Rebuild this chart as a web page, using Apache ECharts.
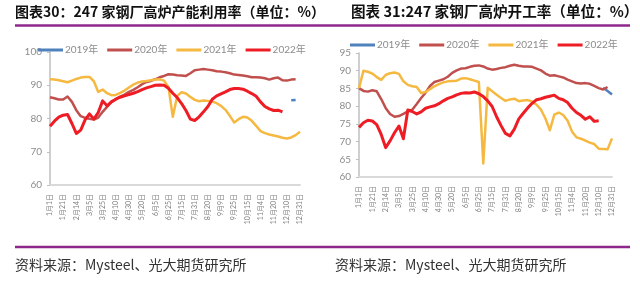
<!DOCTYPE html>
<html>
<head>
<meta charset="utf-8">
<script src="https://cdn.jsdelivr.net/npm/echarts@6/dist/echarts.min.js"></script>
<style>
  html, body { margin: 0; padding: 0; background: #fff; }
  #main { width: 640px; height: 283px; }
</style>
</head>
<body>
<div id="main"></div>
<script>
// x 轴刻度标签（每3个点显示一个）
var tickLabels = ['1月1日', '1月21日', '2月14日', '3月5日', '3月25日', '4月10日', '4月30日', '5月20日', '6月5日', '6月25日',
    '7月15日', '7月31日', '8月20日', '9月9日', '9月25日', '10月15日', '11月4日', '11月20日', '12月10日', '12月31日'];
var pointCount = 58;
var yearNames = ['2019年', '2020年', '2021年', '2022年'];

// 图表30：产能利用率
var util2019Start = 55;
var util2019 = [85.5, 85.6];
var util2020 = [86.4, 86.1, 85.7, 85.7, 86.6, 85.0, 82.5, 80.7, 80.2, 79.9, 79.7, 80.3, 82.0, 83.5, 85.0, 85.8, 86.6, 87.2, 88.0, 88.6,
    89.4, 90.3, 91.0, 91.3, 91.8, 92.4, 92.8, 93.3, 93.2, 93.0, 92.9, 92.8, 93.6, 94.5, 94.7, 94.9, 94.7, 94.5, 94.2, 94.1,
    93.9, 93.6, 93.2, 93.1, 92.9, 92.7, 92.4, 92.4, 92.3, 92.1, 91.7, 92.1, 92.3, 91.5, 91.4, 91.7, 91.8];
var util2021 = [91.8, 91.7, 91.5, 91.2, 90.9, 91.4, 91.9, 92.3, 92.5, 92.5, 91.2, 88.0, 88.7, 87.6, 87.0, 87.1, 87.7, 88.4, 89.3, 90.2,
    90.8, 91.1, 91.3, 91.5, 91.7, 91.8, 91.4, 89.5, 80.5, 86.8, 87.9, 87.5, 86.5, 85.6, 85.2, 85.4, 85.3, 85.1, 84.6, 83.8,
    82.6, 80.8, 78.8, 79.8, 80.5, 80.3, 79.3, 77.8, 76.2, 75.6, 75.2, 74.9, 74.6, 74.2, 74.0, 74.3, 75.0, 76.0];
var util2022 = [77.7, 79.2, 80.4, 81.0, 81.2, 78.5, 75.5, 76.5, 79.6, 81.4, 79.8, 81.8, 85.3, 83.8, 85.0, 85.8, 86.4, 86.8, 87.2, 87.6,
    88.1, 88.7, 89.2, 89.6, 90.0, 90.1, 90.0, 89.1, 87.6, 86.3, 84.5, 82.4, 79.8, 79.4, 80.5, 82.0, 83.6, 85.8, 86.8, 87.4,
    88.0, 88.7, 89.0, 89.0, 88.8, 88.2, 87.5, 86.7, 85.0, 83.6, 82.9, 82.4, 82.5, 82.0];

// 图表31：开工率
var run2019Start = 55;
var run2019 = [85.2, 84.3, 83.3];
var run2020 = [85.1, 84.3, 84.1, 84.5, 84.2, 82.0, 79.5, 77.8, 77.0, 77.2, 77.8, 78.5, 79.0, 80.6, 82.3, 83.8, 85.7, 86.8, 87.2, 87.6,
    88.3, 89.4, 90.1, 90.6, 90.7, 91.1, 91.4, 91.5, 91.2, 90.6, 90.3, 90.5, 90.8, 91.0, 91.4, 91.7, 91.4, 91.2, 91.2, 91.1,
    90.6, 90.1, 89.2, 88.6, 88.7, 88.4, 88.1, 87.5, 87.0, 86.5, 86.4, 86.5, 86.3, 85.7, 85.1, 84.7, 85.4];
var run2021 = [85.1, 90.0, 89.7, 89.2, 88.2, 87.4, 88.8, 89.3, 89.5, 89.1, 87.0, 86.0, 85.6, 85.4, 83.7, 84.0, 84.8, 85.6, 86.2, 86.7,
    87.0, 87.1, 87.2, 87.8, 87.9, 87.6, 87.2, 86.8, 63.8, 85.2, 84.2, 83.2, 82.3, 81.5, 81.9, 82.1, 81.4, 81.6, 81.7, 81.3,
    80.4, 79.0, 76.5, 73.2, 77.6, 78.2, 77.5, 75.9, 72.8, 71.2, 70.8, 70.3, 69.7, 69.3, 68.0, 67.9, 67.8, 70.9];
var run2022 = [74.0, 75.3, 76.0, 75.8, 74.8, 72.0, 68.3, 70.2, 72.5, 74.4, 70.8, 78.9, 78.5, 77.8, 78.4, 79.4, 79.8, 80.1, 80.7, 81.5,
    82.2, 82.6, 83.2, 83.6, 83.8, 83.7, 84.0, 83.5, 82.7, 81.5, 79.9, 77.0, 74.5, 72.3, 71.6, 73.5, 76.4, 78.0, 79.5, 80.8,
    81.8, 82.1, 82.5, 82.8, 83.1, 82.2, 81.8, 81.0, 79.4, 78.2, 77.4, 76.3, 77.0, 75.7, 75.9];

var colors = ['#4f81bd', '#c0504d', '#f5b942', '#ee1c25'];
var widths = [2.5, 2.5, 2.5, 3];
var purple = '#8e278c';
var labelFont = "Lato, 'Noto Sans CJK SC', sans-serif";

// 类目：刻度点放日期，其余为空
var categories = [];
for (var i = 0; i < pointCount; i++) {
    categories.push(i % 3 === 0 ? tickLabels[i / 3] : '');
}

function pad(arr, start) {
    var out = [];
    for (var i = 0; i < pointCount; i++) {
        var k = i - start;
        out.push(k >= 0 && k < arr.length ? arr[k] : null);
    }
    return out;
}

function makeSeries(idx, datas) {
    return datas.map(function (d, j) {
        return {
            name: yearNames[j],
            type: 'line',
            xAxisIndex: idx,
            yAxisIndex: idx,
            data: d,
            symbol: 'none',
            connectNulls: false,
            animation: false,
            lineStyle: { color: colors[j], width: widths[j], join: 'round' },
            itemStyle: { color: colors[j] }
        };
    });
}

function xAxisOf(idx) {
    return {
        type: 'category',
        gridIndex: idx,
        data: categories,
        boundaryGap: false,
        axisLine: { lineStyle: { color: '#d9d9d9', width: 2 } },
        axisTick: { show: false },
        axisLabel: {
            interval: function (i) { return i % 3 === 0; },
            rotate: 90,
            margin: 9,
            fontSize: 7,
            color: '#7f7f7f',
            fontFamily: labelFont
        },
        splitLine: { show: false }
    };
}

function yAxisOf(idx, max, step) {
    return {
        type: 'value',
        gridIndex: idx,
        min: 60,
        max: max,
        interval: step,
        axisLine: { show: true, lineStyle: { color: '#bfbfbf', width: 1.5 } },
        axisTick: { show: true, length: 3, lineStyle: { color: '#bfbfbf' } },
        axisLabel: { margin: 8, fontSize: 10, color: '#8c8c8c', fontFamily: labelFont },
        splitLine: { show: false }
    };
}

function legendOf(left, top) {
    return {
        data: yearNames,
        left: left,
        top: top,
        icon: 'rect',
        itemWidth: 25,
        itemHeight: 3,
        itemGap: 9,
        padding: 0,
        textStyle: { fontSize: 10, color: '#8c8c8c', fontFamily: labelFont, padding: [0, 0, 0, -3] }
    };
}

var myChart = echarts.init(document.getElementById('main'), null, { renderer: 'canvas' });

var option = {
    backgroundColor: '#fff',
    animation: false,
    grid: [
        { left: 50, top: 52, width: 250, height: 133 },
        { left: 359, top: 53, width: 253, height: 124 }
    ],
    legend: [legendOf(38, 45), legendOf(350, 40)],
    xAxis: [xAxisOf(0), xAxisOf(1)],
    yAxis: [yAxisOf(0, 100, 10), yAxisOf(1, 95, 5)],
    series: makeSeries(0, [pad(util2019, util2019Start), pad(util2020, 0), pad(util2021, 0), pad(util2022, 0)])
        .concat(makeSeries(1, [pad(run2019, run2019Start), pad(run2020, 0), pad(run2021, 0), pad(run2022, 0)])),
    graphic: [
        {
            type: 'text', left: 15, top: 5,
            style: { text: '图表30：247 家钢厂高炉产能利用率（单位：%）', font: "bold 14px 'Noto Sans CJK SC'", fill: '#111' }
        },
        {
            type: 'text', left: 351, top: 4,
            style: { text: '图表 31:247 家钢厂高炉开工率（单位：%）', font: "bold 14.6px 'Noto Sans CJK SC'", fill: '#111' }
        },
        {
            type: 'line', shape: { x1: 15, y1: 25.5, x2: 630, y2: 25.5 },
            style: { stroke: purple, lineWidth: 2.5 }
        },
        {
            type: 'line', shape: { x1: 15, y1: 247, x2: 630, y2: 247 },
            style: { stroke: purple, lineWidth: 2.5 }
        },
        {
            type: 'text', left: 15, top: 258,
            style: { text: '资料来源：Mysteel、光大期货研究所', font: "14px 'Noto Sans CJK SC'", fill: '#333' }
        },
        {
            type: 'text', left: 335, top: 258,
            style: { text: '资料来源：Mysteel、光大期货研究所', font: "14px 'Noto Sans CJK SC'", fill: '#333' }
        }
    ]
};

myChart.setOption(option);
</script>
</body>
</html>
